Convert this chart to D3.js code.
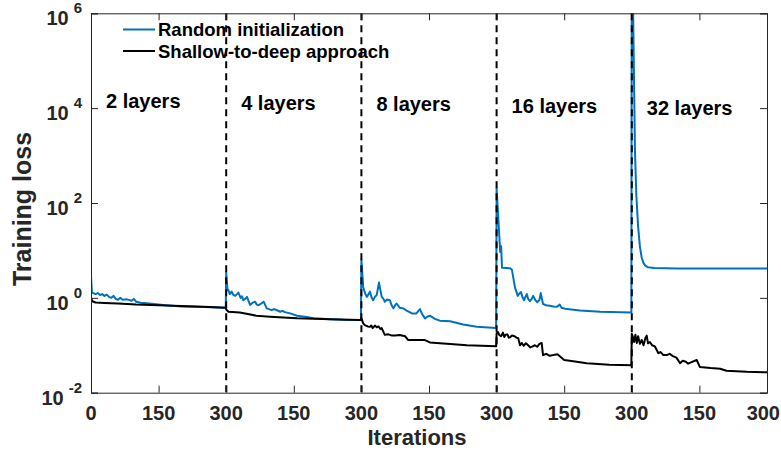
<!DOCTYPE html>
<html>
<head>
<meta charset="utf-8">
<script src="https://cdn.jsdelivr.net/npm/d3@7"></script>
<style>
  body { margin: 0; background: #fff; }
  svg { display: block; font-family: "Liberation Sans", Arial, Helvetica, sans-serif; font-weight: bold; }
</style>
</head>
<body>
<svg id="chart" width="781" height="450"></svg>
<script>
// Stage labels, one per 300-iteration block
const stageLabels = ['2 layers', '4 layers', '8 layers', '16 layers', '32 layers'];
const stageBoundaries = [300, 600, 900, 1200];

const xTickValues = [0, 150, 300, 450, 600, 750, 900, 1050, 1200, 1350, 1500];
const xTickLabels = ['0', '150', '300', '150', '300', '150', '300', '150', '300', '150', '300'];
const yTickExponents = [-2, 0, 2, 4, 6];

// Random initialization: [iteration within stage, loss]
const randomStage1 = [[0, 2.9], [2, 1.32], [5, 1.26], [10, 1.2], [15, 1.26], [20, 1.15], [25, 1.2],
  [30, 1.1], [35, 1.17], [40, 1.05], [45, 1.0], [50, 1.1], [55, 0.95], [60, 0.91], [65, 1.0],
  [70, 0.91], [80, 0.93], [90, 0.87], [95, 0.95], [100, 0.83], [110, 0.79], [130, 0.76],
  [160, 0.71], [200, 0.66], [250, 0.64], [299, 0.62]];
const randomStage2 = [[0, 3.4], [3, 1.45], [5, 1.46], [8, 1.2], [12, 1.35], [16, 1.15], [20, 1.1],
  [24, 1.2], [27, 1.29], [32, 1.0], [35, 1.08], [38, 0.89], [42, 0.95], [46, 1.05], [53, 0.71],
  [58, 0.78], [64, 0.83], [68, 0.72], [72, 0.7], [78, 0.76], [83, 0.83], [90, 0.6], [101, 0.55],
  [106, 0.58], [110, 0.56], [120, 0.51], [125, 0.53], [130, 0.5], [142, 0.47], [157, 0.42],
  [175, 0.4], [194, 0.37], [231, 0.355], [260, 0.345], [299, 0.34]];
const randomStage3 = [[0, 6.3], [4, 1.7], [8, 1.25], [12, 1.05], [16, 1.2], [19, 1.35], [23, 1.0],
  [26, 0.89], [30, 1.05], [34, 1.15], [39, 2.1], [45, 1.05], [49, 0.95], [52, 0.83], [57, 0.92],
  [63, 0.89], [67, 0.7], [71, 0.6], [75, 0.7], [78, 0.76], [85, 0.62], [93, 0.6], [100, 0.54],
  [107, 0.5], [112, 0.47], [122, 0.47], [130, 0.58], [135, 0.45], [141, 0.37], [146, 0.4],
  [152, 0.42], [163, 0.36], [174, 0.33], [197, 0.32], [226, 0.275], [256, 0.245], [299, 0.23]];
const randomStage4 = [[0, 204], [8, 9.3], [10, 12.3], [12, 4.3], [30, 4.2], [34, 3.9], [41, 1.62],
  [47, 1.1], [51, 1.25], [54, 1.32], [58, 1.0], [61, 0.89], [64, 1.05], [67, 1.2], [70, 0.95],
  [74, 0.85], [78, 0.95], [81, 1.1], [86, 0.9], [90, 0.81], [95, 0.9], [98, 1.26], [103, 0.74],
  [110, 0.7], [118, 0.68], [126, 0.66], [134, 0.65], [140, 0.72], [144, 0.62], [152, 0.59],
  [185, 0.54], [230, 0.51], [299, 0.49]];
const randomStage5 = [[0, 1e7], [3, 1e6], [7, 1300], [10, 150], [14, 32], [18, 12], [22, 7],
  [26, 5.4], [30, 4.8], [36, 4.4], [50, 4.25], [100, 4.17], [200, 4.15], [300, 4.15]];

// Shallow-to-deep approach: [iteration within stage, loss]
const shallowStage1 = [[0, 1.0], [3, 0.85], [10, 0.8], [30, 0.78], [60, 0.76], [100, 0.72],
  [150, 0.7], [200, 0.67], [250, 0.65], [299, 0.62]];
const shallowStage2 = [[0, 0.57], [5, 0.51], [30, 0.49], [45, 0.46], [67, 0.42], [97, 0.4],
  [157, 0.37], [231, 0.355], [299, 0.34]];
const shallowStage3 = [[0, 0.37], [4, 0.29], [7, 0.27], [10, 0.26], [14, 0.25], [19, 0.245],
  [22, 0.26], [25, 0.23], [30, 0.26], [34, 0.24], [38, 0.25], [42, 0.22], [45, 0.23], [52, 0.166],
  [60, 0.17], [68, 0.16], [75, 0.16], [85, 0.165], [97, 0.155], [104, 0.129], [141, 0.129],
  [152, 0.115], [197, 0.107], [234, 0.1], [299, 0.095]];
const shallowStage4 = [[0, 0.178], [3, 0.19], [6, 0.165], [10, 0.155], [14, 0.185], [17, 0.15],
  [20, 0.166], [24, 0.17], [27, 0.145], [30, 0.148], [34, 0.16], [40, 0.155], [44, 0.145],
  [48, 0.141], [52, 0.1], [56, 0.112], [60, 0.098], [65, 0.11], [70, 0.1], [75, 0.09], [80, 0.095],
  [85, 0.1], [90, 0.093], [95, 0.107], [100, 0.112], [103, 0.062], [110, 0.066], [118, 0.06],
  [125, 0.062], [135, 0.065], [150, 0.049], [170, 0.046], [200, 0.042], [250, 0.039], [299, 0.038]];
const shallowStage5 = [[0, 0.174], [2, 0.155], [5, 0.117], [8, 0.166], [11, 0.112], [14, 0.155],
  [18, 0.107], [22, 0.129], [26, 0.1], [30, 0.141], [33, 0.16], [36, 0.11], [40, 0.117], [45, 0.1],
  [51, 0.095], [59, 0.068], [64, 0.072], [70, 0.062], [77, 0.062], [84, 0.066], [90, 0.06],
  [99, 0.055], [107, 0.042], [113, 0.047], [120, 0.045], [125, 0.041], [130, 0.043], [144, 0.049],
  [151, 0.035], [175, 0.033], [196, 0.032], [210, 0.029], [255, 0.0275], [300, 0.027]];

const stageLength = 300;
const series = [
  {name: 'Random initialization', color: '#0072BD',
    stages: [randomStage1, randomStage2, randomStage3, randomStage4, randomStage5]},
  {name: 'Shallow-to-deep approach', color: '#000000',
    stages: [shallowStage1, shallowStage2, shallowStage3, shallowStage4, shallowStage5]}
];

const svg = d3.select('#chart');
const plotLeft = 91;
const plotRight = 767;
const plotTop = 13.3;
const plotBottom = 392.7;
const axisColor = '#262626';

const x = d3.scaleLinear().domain([0, 1500]).range([plotLeft, plotRight]);
const y = d3.scaleLog().domain([1e-2, 1e6]).range([plotBottom, plotTop]);

// Curves, clipped to the axes box
svg.append('defs').append('clipPath')
  .attr('id', 'plot-cp')
  .append('rect')
  .attr('x', plotLeft)
  .attr('y', plotTop)
  .attr('width', plotRight - plotLeft)
  .attr('height', plotBottom - plotTop);

const line = d3.line()
  .x((d) => x(d.x))
  .y((d) => y(d.y));

const plot = svg.append('g').attr('clip-path', 'url(#plot-cp)');

series.forEach((s) => {
  const points = s.stages.flatMap((stage, i) =>
    stage.map(([it, v]) => ({x: i * stageLength + it, y: v})));
  plot.append('path')
    .datum(points)
    .attr('fill', 'none')
    .attr('stroke', s.color)
    .attr('stroke-width', 2)
    .attr('stroke-linejoin', 'round')
    .attr('d', line);
});

// Dashed stage separators
plot.selectAll('.sep')
  .data(stageBoundaries)
  .enter()
  .append('line')
  .attr('class', 'sep')
  .attr('x1', (d) => x(d))
  .attr('x2', (d) => x(d))
  .attr('y1', plotTop)
  .attr('y2', plotBottom)
  .attr('stroke', '#000')
  .attr('stroke-width', 2)
  .attr('stroke-dasharray', '7,5');

// Axes box with inward ticks on all four sides
const yTickValues = yTickExponents.map((e) => Math.pow(10, e));
const axisGroups = [
  svg.append('g').attr('transform', `translate(0,${plotBottom})`)
    .call(d3.axisBottom(x).tickValues(xTickValues).tickSize(-7).tickFormat('')),
  svg.append('g').attr('transform', `translate(0,${plotTop})`)
    .call(d3.axisTop(x).tickValues(xTickValues).tickSize(-7).tickFormat('')),
  svg.append('g').attr('transform', `translate(${plotLeft},0)`)
    .call(d3.axisLeft(y).tickValues(yTickValues).tickSize(-7).tickFormat('')),
  svg.append('g').attr('transform', `translate(${plotRight},0)`)
    .call(d3.axisRight(y).tickValues(yTickValues).tickSize(-7).tickFormat(''))
];
axisGroups.forEach((g) => {
  g.selectAll('path').attr('stroke', axisColor).attr('stroke-width', 1);
  g.selectAll('line').attr('stroke', axisColor).attr('stroke-width', 1);
});

// X tick labels (the last one is kept inside the picture)
svg.selectAll('.xlabel')
  .data(xTickValues)
  .enter()
  .append('text')
  .attr('class', 'xlabel')
  .attr('x', (d, i) => i === xTickValues.length - 1 ? 780 : x(d))
  .attr('y', 420)
  .attr('text-anchor', (d, i) => i === xTickValues.length - 1 ? 'end' : 'middle')
  .attr('fill', axisColor)
  .attr('font-size', 20)
  .text((d, i) => xTickLabels[i]);

// Y tick labels as 10 with a raised exponent
const yLabel = svg.selectAll('.ylabel')
  .data(yTickExponents)
  .enter()
  .append('text')
  .attr('class', 'ylabel')
  .attr('x', 82)
  .attr('y', (d) => y(Math.pow(10, d)) + 12)
  .attr('text-anchor', 'end')
  .attr('fill', axisColor)
  .attr('font-size', 20);
yLabel.append('tspan').text('10');
yLabel.append('tspan')
  .attr('dx', 5)
  .attr('dy', -12)
  .attr('font-size', 15)
  .text((d) => d);

// Axis titles
svg.append('text')
  .attr('x', 417)
  .attr('y', 445)
  .attr('text-anchor', 'middle')
  .attr('fill', axisColor)
  .attr('font-size', 22)
  .text('Iterations');

svg.append('text')
  .attr('transform', 'translate(31,209) rotate(-90)')
  .attr('text-anchor', 'middle')
  .attr('fill', axisColor)
  .attr('font-size', 25)
  .text('Training loss');

// Stage labels
svg.selectAll('.stage')
  .data(stageLabels)
  .enter()
  .append('text')
  .attr('class', 'stage')
  .attr('x', (d, i) => x(i * stageLength) + 15)
  .attr('y', (d, i) => 108 + i * 1.7)
  .attr('fill', '#000')
  .attr('font-size', 20)
  .text((d) => d);

// Legend
const legend = svg.selectAll('.legend')
  .data(series)
  .enter()
  .append('g')
  .attr('class', 'legend')
  .attr('transform', (d, i) => `translate(123,${29.5 + i * 21.5})`);
legend.append('line')
  .attr('x1', 0)
  .attr('x2', 32)
  .attr('stroke', (d) => d.color)
  .attr('stroke-width', 2);
legend.append('text')
  .attr('x', 35)
  .attr('y', 6.5)
  .attr('fill', '#000')
  .attr('font-size', 18.5)
  .text((d) => d.name);
</script>
</body>
</html>
